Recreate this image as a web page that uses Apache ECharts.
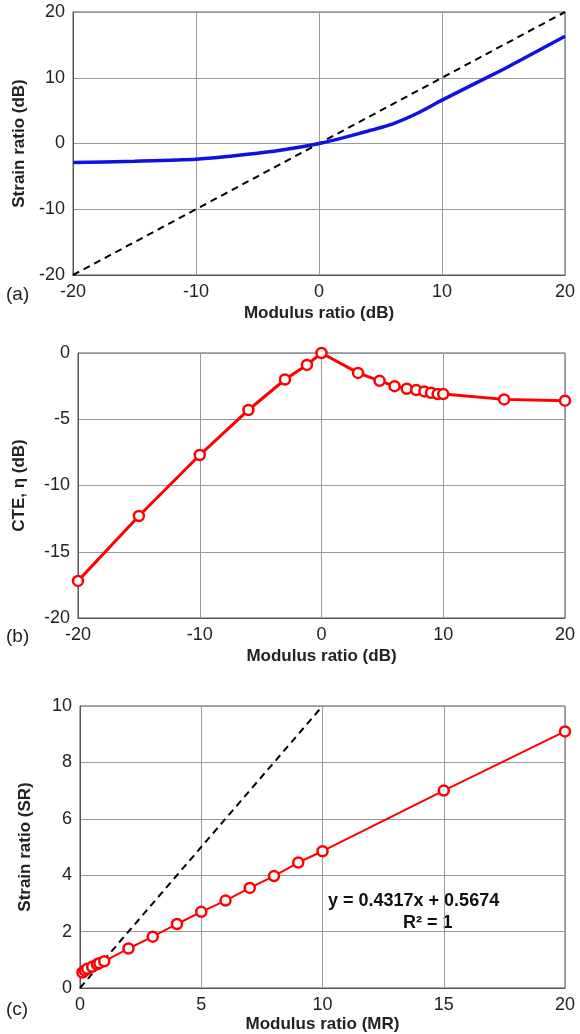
<!DOCTYPE html><html><head><meta charset="utf-8"><script src="https://cdn.jsdelivr.net/npm/echarts@6/dist/echarts.min.js"></script>
<style>body{margin:0;background:#fff}#c{width:580px;height:1034px}</style></head><body><div id="c"></div><script>
const aX=[-20,-15,-10,-5,-2,0,2,4,6,8,10,15,20];
const aY=[-2.9,-2.7,-2.4,-1.5,-0.7,0,0.9,1.9,3.0,4.6,6.6,11.3,16.3];
const aRefX=[-20,20], aRefY=[-20,20];
const bX=[-20,-15,-10,-6,-3,-1.2,0,3,4.77,6,7,7.78,8.45,9,9.54,10,15,20];
const bY=[-17.2,-12.3,-7.7,-4.3,-2.0,-0.9,0,-1.5,-2.1,-2.5,-2.7,-2.8,-2.9,-3.0,-3.1,-3.1,-3.5,-3.6];
const cX=[0.1,0.2,0.3,0.5,0.7,0.8,1,2,3,4,5,6,7,8,9,10,15,20];
const cY=[0.55,0.62,0.68,0.75,0.84,0.88,0.95,1.4,1.82,2.27,2.7,3.1,3.55,3.97,4.45,4.85,7.0,9.1];
const cRefX=[0,10], cRefY=[0,10];
const z=(x,y)=>x.map((v,i)=>[v,y[i]]);
const F='Liberation Sans, Arial, sans-serif';
const grids=[{left:73,top:12,width:492,height:263},{left:78,top:353,width:487,height:265},{left:80,top:706,width:485,height:294}];
const lbl={fontFamily:F,fontSize:18,color:'#222'};
const split={show:true,lineStyle:{color:'#999',width:1}};
function xa(i,min,max,iv,name){return {gridIndex:i,type:'value',min,max,interval:iv,name,nameLocation:'middle',nameGap:i==2?28:30,nameTextStyle:{fontFamily:F,fontSize:17,fontWeight:'bold',color:'#222'},axisLabel:Object.assign({margin:8},lbl),axisLine:{onZero:false,lineStyle:{color:'#555'}},axisTick:{show:false},splitLine:split};}
function ya(i,min,max,iv,name,gap){return {gridIndex:i,type:'value',min,max,interval:iv,name,nameLocation:'middle',nameGap:gap,nameTextStyle:{fontFamily:F,fontSize:17,fontWeight:'bold',color:'#222'},axisLabel:Object.assign({margin:8},lbl),axisLine:{show:true,onZero:false,lineStyle:{color:'#555'}},axisTick:{show:false},splitLine:split};}
const ch=echarts.init(document.getElementById('c'));
ch.setOption({animation:false,grid:grids.map(g=>Object.assign({show:true,borderColor:'#555',borderWidth:1},g)),
xAxis:[xa(0,-20,20,10,'Modulus ratio (dB)'),xa(1,-20,20,10,'Modulus ratio (dB)'),xa(2,0,20,5,'Modulus ratio (MR)')],
yAxis:[ya(0,-20,20,10,'Strain ratio (dB)',44),ya(1,-20,0,5,'CTE, η (dB)',50),ya(2,0,10,2,'Strain ratio (SR)',46)],
graphic:[{type:'text',left:6,top:285,style:{text:'(a)',font:'19px '+F,fill:'#222'}},
{type:'text',left:6,top:627,style:{text:'(b)',font:'19px '+F,fill:'#222'}},
{type:'text',left:6,top:1000,style:{text:'(c)',font:'19px '+F,fill:'#222'}},
{type:'text',left:328,top:892,style:{text:'y = 0.4317x + 0.5674',font:'bold 18px '+F,fill:'#111'}},
{type:'text',left:403,top:914,style:{text:'R² = 1',font:'bold 18px '+F,fill:'#111'}}],
series:[
{type:'line',xAxisIndex:0,yAxisIndex:0,data:z(aRefX,aRefY),symbol:'none',lineStyle:{color:'#000',width:2,type:[7,5]}},
{type:'line',xAxisIndex:0,yAxisIndex:0,data:z(aX,aY),symbol:'none',smooth:0.2,lineStyle:{color:'#1010e0',width:3.5}},
{type:'line',xAxisIndex:1,yAxisIndex:1,data:z(bX,bY),symbol:'circle',symbolSize:10,itemStyle:{color:'#fff',borderColor:'#f00',borderWidth:2.5},lineStyle:{color:'#f00',width:3}},
{type:'line',xAxisIndex:2,yAxisIndex:2,data:z(cRefX,cRefY),symbol:'none',lineStyle:{color:'#000',width:2,type:[7,5]}},
{type:'line',xAxisIndex:2,yAxisIndex:2,data:z(cX,cY),symbol:'circle',symbolSize:10,itemStyle:{color:'#fff',borderColor:'#f00',borderWidth:2.5},lineStyle:{color:'#f00',width:2}}
]});
</script></body></html>
